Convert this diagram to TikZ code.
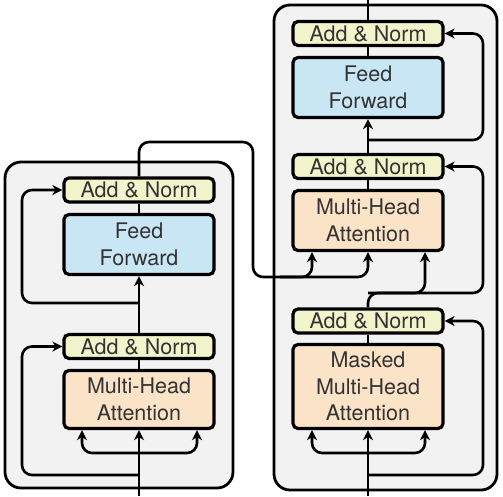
\documentclass[tikz,border=0pt]{standalone}
\usepackage{fontspec}
\setmainfont{TeX Gyre Heros}
\usepackage{xcolor}
\usepackage{tikz}
\usetikzlibrary{arrows.meta}

\definecolor{framegray}{HTML}{F2F2F2}
\definecolor{normyellow}{HTML}{F2F5CB}
\definecolor{ffblue}{HTML}{C8E6F4}
\definecolor{attnorange}{HTML}{FBE3C7}

\begin{document}
\begin{tikzpicture}[x=1pt, y=-1pt,
    flow/.style={line width=2.6pt, rounded corners=10pt},
    tip/.style={-{Stealth[length=10pt,width=10pt,inset=3pt]}},
    stack/.style={draw, line width=2.8pt, rounded corners=16pt, fill=framegray},
    block/.style={draw, line width=3.2pt, rounded corners=5pt, minimum width=150pt,
        inner sep=0pt, align=center, text=black!80,
        font=\fontsize{21.5}{26.5}\selectfont},
    norm/.style={block, fill=normyellow, minimum height=24pt},
    ffbox/.style={block, fill=ffblue, minimum height=60pt},
    attnbox/.style={block, fill=attnorange, minimum height=58pt}]

    \useasboundingbox (0, 0) rectangle (503, 496);

    % the two stacks
    \draw[stack] (5, 162) rectangle (233, 488);
    \draw[stack] (274, 5) rectangle (497, 490);

    % encoder
    \node[attnbox] (encMHA) at (139, 399.5) {Multi-Head\\Attention};
    \node[norm] (encNormB) at (139, 346.5) {Add \& Norm};
    \node[ffbox] (encFF) at (139, 244.5) {Feed\\Forward};
    \node[norm] (encNormT) at (139, 190) {Add \& Norm};

    % decoder
    \node[attnbox, minimum height=84pt] (decMMHA) at (368, 386.5) {Masked\\Multi-Head\\Attention};
    \node[norm] (decNormB) at (368, 321) {Add \& Norm};
    \node[attnbox, minimum height=60pt] (decMHA) at (368, 220.5) {Multi-Head\\Attention};
    \node[norm] (decNormM) at (368, 166.5) {Add \& Norm};
    \node[ffbox] (decFF) at (368, 87.5) {Feed\\Forward};
    \node[norm] (decNormT) at (368, 33.5) {Add \& Norm};

    \coordinate (encIn) at (139, 496);
    \coordinate (decIn) at (368, 496);
    \coordinate (decOut) at (368, 0);

    % encoder connectors
    \draw[flow, tip] (encIn) -- (encMHA.south);
    \draw[flow, tip] (139, 453) -| ([xshift=-57pt]encMHA.south);
    \draw[flow, tip] (139, 453) -| ([xshift=58pt]encMHA.south);
    \draw[flow, tip] (139, 475) -| (22, 346.5) -- (encNormB.west);
    \draw[flow] (encMHA.north) -- (encNormB.south);
    \draw[flow, tip] (encNormB.north) -- (encFF.south);
    \draw[flow, tip] (139, 303) -| (22, 190) -- (encNormT.west);
    \draw[flow] (encFF.north) -- (encNormT.south);

    % encoder output into the decoder
    \draw[flow, tip] (encNormT.north) -- (139, 142) -- (253, 142) -- (253, 277) -| (decMHA.south);
    \draw[flow, tip] (280, 277) -| ([xshift=-56pt]decMHA.south);

    % decoder connectors
    \draw[flow, tip] (decIn) -- (decMMHA.south);
    \draw[flow, tip] (368, 453) -| ([xshift=-56pt]decMMHA.south);
    \draw[flow, tip] (368, 453) -| ([xshift=57pt]decMMHA.south);
    \draw[flow, tip] (368, 475) -| (483, 321) -- (decNormB.east);
    \draw[flow] (decMMHA.north) -- (decNormB.south);
    \draw[flow, tip] (decNormB.north) -- (368, 293) -| ([xshift=57pt]decMHA.south);
    \draw[flow, tip] (368, 293) -| (483, 166.5) -- (decNormM.east);
    \draw[flow] (decMHA.north) -- (decNormM.south);
    \draw[flow, tip] (decNormM.north) -- (decFF.south);
    \draw[flow, tip] (368, 140) -| (483, 33.5) -- (decNormT.east);
    \draw[flow] (decFF.north) -- (decNormT.south);
    \draw[flow] (decNormT.north) -- (decOut);
\end{tikzpicture}
\end{document}
